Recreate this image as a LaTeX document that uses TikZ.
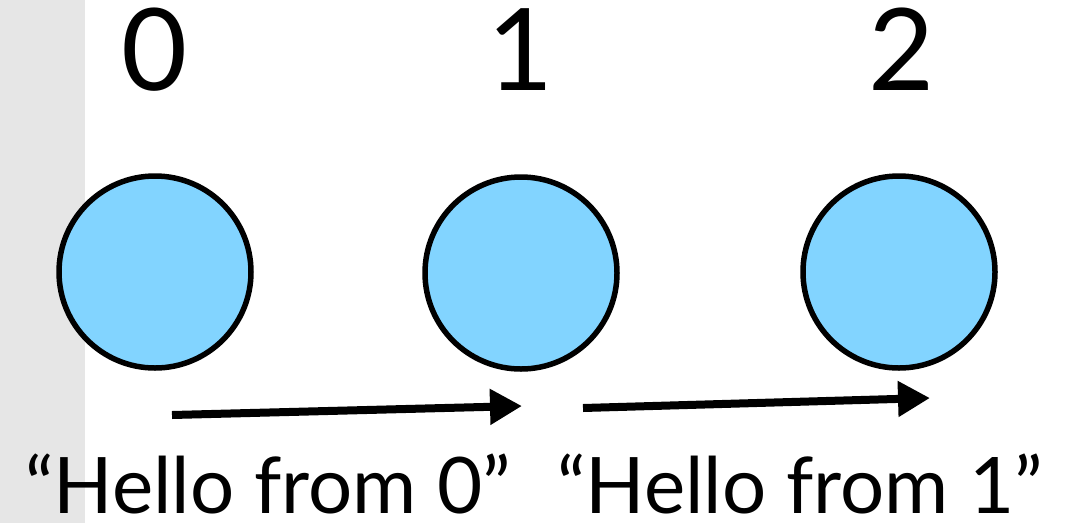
\documentclass[tikz,border=0pt]{standalone}
\usepackage{fontspec}
\setmainfont{Lato}
\usepackage{tikz}
\usetikzlibrary{arrows.meta,positioning}
\definecolor{proc}{RGB}{130,212,255}
\definecolor{strip}{RGB}{230,230,230}

\begin{document}
\begin{tikzpicture}[
  x=1pt, y=-1pt,
  rank/.style={circle, draw, line width=5.5pt, fill=proc, minimum size=192pt, inner sep=0pt},
  ranklabel/.style={font=\fontsize{114}{118}\selectfont, inner sep=0pt, anchor=base},
  msg/.style={font=\fontsize{78}{86}\selectfont, inner sep=0pt, anchor=base},
  send/.style={-{Triangle[length=32pt,width=34pt]}, line width=8pt}
]
\useasboundingbox (0,0) rectangle (1067,523);
\fill[strip] (0,0) rectangle (85,523);
\node[rank] (r0) at (155,272) {};
\node[rank] (r1) at (521,273) {};
\node[rank] (r2) at (899,272) {};
\node[ranklabel] (l0) at (155,90) {0};
\node[ranklabel] (l1) at (521,90) {1};
\node[ranklabel] (l2) at (902,90) {2};
\node[msg] (m0) at (268,513) {“Hello from 0”};
\node[msg] (m1) at (800,513) {“Hello from 1”};
\coordinate (s0) at (172,415);
\coordinate (t0) at (522,406);
\coordinate (s1) at (583,408);
\coordinate (t1) at (930,398);
\draw[send] (s0) -- (t0);
\draw[send] (s1) -- (t1);
\end{tikzpicture}
\end{document}
